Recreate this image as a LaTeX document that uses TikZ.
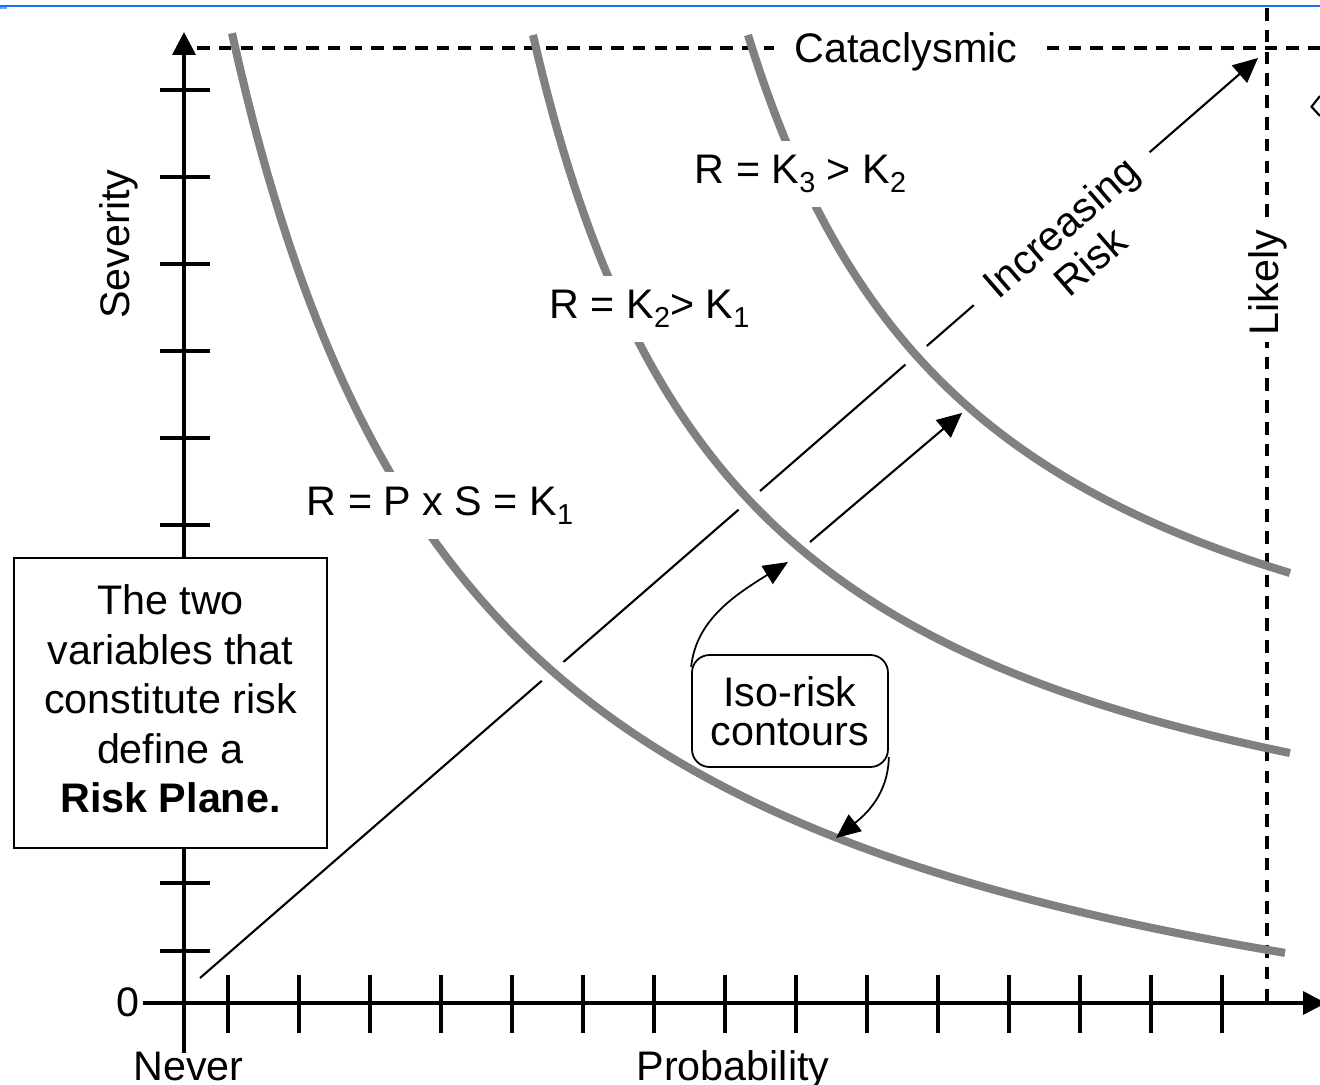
\documentclass[tikz,border=0pt]{standalone}
\usepackage{fontspec}
\setmainfont{Liberation Sans}
\usetikzlibrary{arrows.meta}
\definecolor{topblue}{RGB}{25,110,250}
\newcommand{\ksub}[1]{\raisebox{-2.8pt}{\fontsize{8.2}{8.2}\selectfont #1}}

\begin{document}
\begin{tikzpicture}[x=0.1cm, y=-0.1cm,
    every node/.style={font=\fontsize{11.75}{14.1}\selectfont},
    axisline/.style={line width=1pt},
    axisarrow/.style={line width=1pt, -{Triangle[length=6.5pt,width=6.5pt]}},
    riskarrow/.style={line width=0.6pt, -{Triangle[length=7pt,width=6.5pt]}},
    isoarrow/.style={line width=0.5pt, -{Triangle[length=7pt,width=6pt]}},
    dashline/.style={line width=1pt, dash pattern=on 3.6pt off 2.6pt},
    contour/.style={draw=black!50, line width=2.3pt},
    casing/.style={draw=white, line width=8pt},
    curvelabel/.style={fill=white, inner sep=4pt, anchor=base}]
    \useasboundingbox (0,0) rectangle (132,108.5);

    % Top rule
    \draw[topblue, line width=0.6pt] (0,0.6) -- (132,0.6);
    \fill[topblue!60] (0,0.7) rectangle (0.7,0.9);
    \draw[line width=0.6pt] (132,9.6) -- (131.15,10.67) -- (132,11.6);

    % Axes
    \draw[axisarrow] (18.4,105.3) -- (18.4,3.2);
    \draw[axisarrow] (14.3,100.3) -- (132.6,100.3);
    \foreach \t in {9.0,17.7,26.4,35.1,43.8,52.5,88.3,95.1}
        \draw[axisline] (16.0,\t) -- (21.0,\t);
    \foreach \k in {0,...,14}
        \draw[axisline] ({22.8+7.1*\k},97.5) -- ({22.8+7.1*\k},103.3);

    % Increasing risk
    \coordinate (diagstart) at (20.0,97.8);
    \coordinate (diagend) at (125.8,5.8);
    \draw[riskarrow] (diagstart) -- (diagend);

    % Contours (white casing first)
    \foreach \c/\b/\k/\xs/\xe in {2/117.3/2872.31/23.2/128.5, -32.3/95.22/1926.12/53.3/129, -50.94/80.98/1848.67/74.8/129}
        \draw[casing] plot[domain=\xs:\xe, samples=150] (\x, {\b-\k/(\x+\c)});

    % Limits
    \draw[dashline] (19.7,4.8) -- (132,4.8);
    \draw[dashline] (126.7,0.8) -- (126.7,100.3);

    \foreach \c/\b/\k/\xs/\xe in {2/117.3/2872.31/23.2/128.5, -32.3/95.22/1926.12/53.3/129, -50.94/80.98/1848.67/74.8/129}
        \draw[contour] plot[domain=\xs:\xe, samples=150] (\x, {\b-\k/(\x+\c)});

    % Labels
    \node[curvelabel] (kone) at (44.0,51.5) {R = P x S = K\ksub{1}};
    \node[curvelabel] (ktwo) at (64.95,31.8) {R = K\ksub{2}> K\ksub{1}};
    \node[curvelabel] (kthree) at (80.05,18.3) {R = K\ksub{3} > K\ksub{2}};
    \node[fill=white, inner xsep=6pt, inner ysep=2pt, anchor=base] (catnode) at (90.6,6.2) {Cataclysmic};
    \node[fill=white, inner sep=2pt, anchor=base, rotate=90] (likelynode) at (127.8,28.25) {Likely};
    \node[anchor=base, rotate=90] (sevnode) at (13.0,24.4) {Severity};
    \node[anchor=base] (probnode) at (73.3,108.0) {Probability};
    \node[anchor=base] (nevernode) at (18.85,108.0) {Never};
    \node[anchor=base] (zeronode) at (12.8,101.6) {0};
    \node[fill=white, rotate=41, align=center, inner xsep=6pt, inner ysep=2pt,
        font=\fontsize{11.75}{12.8}\selectfont] (risknode) at (107.5,24.4) {Increasing\\Risk};

    % Step up between contours
    \coordinate (risestart) at (81.0,54.2);
    \coordinate (riseend) at (96.2,41.3);
    \draw[riskarrow] (risestart) -- (riseend);

    % Boxes
    \node[draw, line width=0.7pt, fill=white, minimum width=3.13cm, minimum height=2.9cm,
        align=center] (planebox) at (17.05,70.3) {};
    \node[align=center] (planetext) at (17.05,69.9)
        {The two\\variables that\\constitute risk\\define a\\\textbf{Risk Plane.}};
    \node[draw, line width=0.5pt, fill=white, rounded corners=5pt, minimum width=1.96cm,
        minimum height=1.12cm, align=center, font=\fontsize{11.75}{11.1}\selectfont]
        (isobox) at (79.0,71.1) {Iso-risk\\contours};

    \coordinate (isotipa) at (78.8,56.2);
    \coordinate (isotipb) at (83.6,83.8);
    \draw[isoarrow] (isobox.156) .. controls (69.6,62) and (73.5,59.5) .. (isotipa);
    \draw[isoarrow] (isobox.335) .. controls (88.8,79.5) and (86.5,81.5) .. (isotipb);
\end{tikzpicture}
\end{document}
